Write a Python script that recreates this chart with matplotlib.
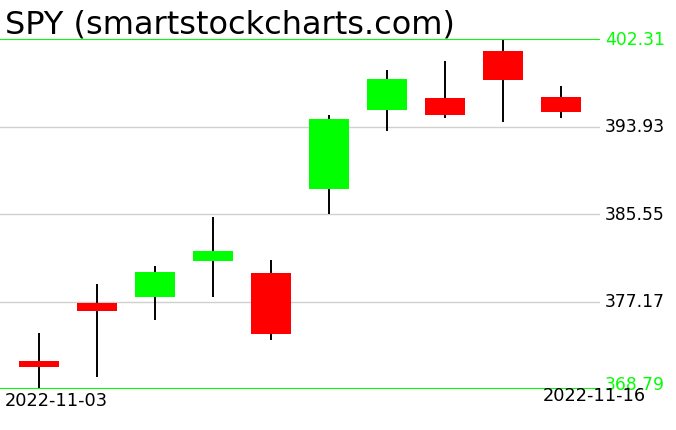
import matplotlib
matplotlib.use("Agg")
import matplotlib.pyplot as plt
import matplotlib.transforms as mtransforms

# Daily OHLC for SPY
dates = ["2022-11-03", "2022-11-04", "2022-11-07", "2022-11-08", "2022-11-09",
         "2022-11-10", "2022-11-11", "2022-11-14", "2022-11-15", "2022-11-16"]
opens = [371.47, 377.03, 377.60, 381.05, 379.90, 387.94, 395.51, 396.66, 401.16, 396.76]
highs = [374.15, 378.85, 380.57, 385.26, 381.15, 395.03, 399.34, 400.20, 402.31, 397.81]
lows = [368.79, 369.94, 375.40, 377.60, 373.48, 385.55, 393.50, 394.74, 394.36, 394.74]
closes = [370.90, 376.26, 380.00, 382.01, 374.06, 394.65, 398.48, 395.03, 398.38, 395.32]

price_levels = [368.79, 377.17, 385.55, 393.93, 402.31]

W, H = 676, 431
fig = plt.figure(figsize=(W / 100, H / 100), dpi=100)
ax = fig.add_axes([0, 1 - 390 / H, 600 / W, 350 / H])

x = list(range(len(dates)))
for i in x:
    up = closes[i] >= opens[i]
    col = "#00ff00" if up else "#ff0000"
    ax.vlines(i, lows[i], highs[i], color="black", lw=1.4, zorder=2)
    lo = min(opens[i], closes[i])
    ax.bar(i, abs(closes[i] - opens[i]), bottom=lo, width=0.69, color=col, zorder=3)

for j, lvl in enumerate(price_levels):
    edge = j in (0, len(price_levels) - 1)
    ax.axhline(lvl, color="#00ff00" if edge else "#d0d0d0",
               lw=1.5 if edge else 1.0, zorder=1 if not edge else 4)
    # the bottom label is nudged ~5px above its line, as in the reference
    tr = ax.get_yaxis_transform()
    if j == 0:
        tr = tr + mtransforms.ScaledTranslation(0, 5 / 100, fig.dpi_scale_trans)
    ax.text(1.008, lvl, f"{lvl:.2f}", transform=tr,
            ha="left", va="center", fontsize=12.3,
            color="#00ff00" if edge else "black")

ax.set_xlim(-0.672, 9.672)
ax.set_ylim(price_levels[0], price_levels[-1])
ax.axis("off")

fig.text(5 / W, 1 - 25 / H, "SPY (smartstockcharts.com)", fontsize=23,
         color="black", va="center", ha="left")
fig.text(5 / W, 1 - 401 / H, dates[0], fontsize=12.8, va="center", ha="left")
fig.text(646 / W, 1 - 396 / H, dates[-1], fontsize=12.8, va="center", ha="right")

fig.savefig("out.png", dpi=100)
